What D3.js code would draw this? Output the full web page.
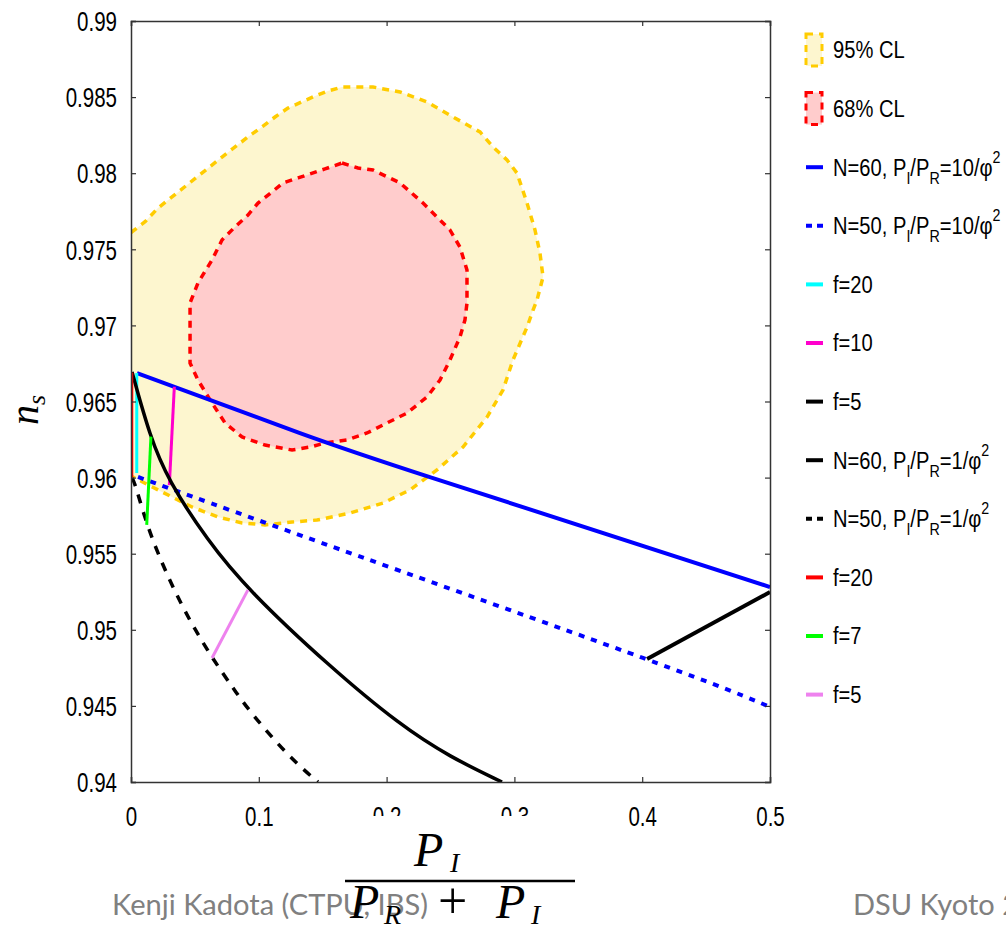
<!DOCTYPE html>
<html>
<head>
<meta charset="utf-8">
<script src="https://cdn.jsdelivr.net/npm/d3@7"></script>
<style>
body { margin: 0; background: #fff; }
svg { display: block; }
.tick text { font-family: "Liberation Sans", Arial, sans-serif; font-size: 27px; fill: #000; }
.legend text { font-family: "Liberation Sans", Arial, sans-serif; font-size: 24px; fill: #000; }
</style>
</head>
<body>
<svg id="chart" width="1006" height="931"></svg>
<script>
// values
var xTicks = [0, 0.1, 0.2, 0.3, 0.4, 0.5];
var yTicks = [0.94, 0.945, 0.95, 0.955, 0.96, 0.965, 0.97, 0.975, 0.98, 0.985, 0.99];

// 95% CL contour, left axis -> round -> left axis
var cl95 = [[0, 0.9761], [0.011, 0.97681], [0.0211, 0.97771], [0.0321, 0.97844], [0.0516, 0.97975],
  [0.0712, 0.98106], [0.0915, 0.98238], [0.1025, 0.98304], [0.1127, 0.98369], [0.1228, 0.98428],
  [0.144, 0.98507], [0.1541, 0.9854], [0.1651, 0.98566], [0.1894, 0.98566], [0.2105, 0.98534],
  [0.2316, 0.98468], [0.252, 0.98369], [0.2731, 0.98271], [0.2833, 0.98172], [0.2942, 0.98087],
  [0.302, 0.98001], [0.3099, 0.97804], [0.3161, 0.97627], [0.32, 0.97476], [0.3224, 0.97318],
  [0.3177, 0.97167], [0.3146, 0.97101], [0.3099, 0.96989], [0.2989, 0.96773], [0.2911, 0.96576],
  [0.2786, 0.96398], [0.2598, 0.96201], [0.2394, 0.9605], [0.2183, 0.95919], [0.1972, 0.95833],
  [0.1714, 0.95767], [0.1455, 0.95721], [0.126, 0.95708], [0.1049, 0.95689], [0.0869, 0.95702],
  [0.0681, 0.95741], [0.0477, 0.95807], [0.0211, 0.95919], [0.0016, 0.96004], [0, 0.9601]];

// 68% CL contour (closed)
var cl68 = [[0.1651, 0.98067], [0.1776, 0.98034], [0.1894, 0.98021], [0.2105, 0.97936], [0.2285, 0.97804],
  [0.2496, 0.97627], [0.2574, 0.97515], [0.2629, 0.97364], [0.2629, 0.97147], [0.2613, 0.97035],
  [0.2574, 0.96924], [0.2496, 0.96773], [0.2418, 0.96641], [0.2316, 0.9653], [0.216, 0.96424],
  [0.2003, 0.96359], [0.1847, 0.96293], [0.169, 0.96247], [0.1518, 0.96227], [0.1401, 0.96201],
  [0.126, 0.96181], [0.1049, 0.96214], [0.0869, 0.96267], [0.0736, 0.96359], [0.0634, 0.9649],
  [0.0524, 0.96641], [0.0462, 0.96753], [0.0462, 0.97147], [0.0524, 0.97279], [0.0634, 0.9743],
  [0.0712, 0.97561], [0.0814, 0.97647], [0.0915, 0.97725], [0.0994, 0.97804], [0.1103, 0.97877],
  [0.1189, 0.97936], [0.1307, 0.97969], [0.1518, 0.98028]];

var n60Phi10 = [[0.0047, 0.96687], [0.1322, 0.96293], [0.2363, 0.95997], [0.5, 0.95281]];
var n50Phi10 = [[0.0055, 0.96004], [0.1495, 0.9557], [0.4006, 0.94815], [0.5, 0.94493]];
var n60Phi1 = [[0.0008, 0.96694], [0.0149, 0.96267], [0.029, 0.95984], [0.0595, 0.9559],
  [0.0915, 0.95262], [0.1557, 0.94756], [0.2105, 0.94374], [0.2496, 0.94164], [0.2903, 0.94]];
var n50Phi1 = [[0.0008, 0.95997], [0.0031, 0.95965], [0.0149, 0.9561], [0.0399, 0.95143],
  [0.0634, 0.94815], [0.0798, 0.94618], [0.0931, 0.9446], [0.1244, 0.94158], [0.1463, 0.94]];

var f20Phi10 = [[0.0045, 0.96687], [0.0045, 0.9603]];
var f10Phi10 = [[0.0339, 0.96597], [0.03, 0.95951]];
var f5Phi10 = [[0.4038, 0.94808], [0.5, 0.95248]];
var f20Phi1 = [[0.0006, 0.9669], [0.0006, 0.96]];
var f7Phi1 = [[0.0156, 0.96269], [0.0123, 0.95689]];
var f5Phi1 = [[0.0915, 0.95262], [0.0634, 0.94815]];

// curve: 'natural' passes through points, 'basis' smooths the read-off points
var lineSeries = [
  {data: n60Phi10, color: '#0000ff', width: 4, dash: null, curve: 'natural', label: 'N=60, P_I/P_R=10/φ^2'},
  {data: n50Phi10, color: '#0000ff', width: 4, dash: '6,7', curve: 'natural', label: 'N=50, P_I/P_R=10/φ^2'},
  {data: f20Phi10, color: '#00ffff', width: 3, dash: null, label: 'f=20'},
  {data: f10Phi10, color: '#ff00cc', width: 3, dash: null, label: 'f=10'},
  {data: f5Phi10, color: '#000000', width: 4, dash: null, label: 'f=5'},
  {data: n60Phi1, color: '#000000', width: 3.5, dash: null, curve: 'basis', label: 'N=60, P_I/P_R=1/φ^2'},
  {data: n50Phi1, color: '#000000', width: 3.5, dash: '9,9', curve: 'basis', label: 'N=50, P_I/P_R=1/φ^2'},
  {data: f20Phi1, color: '#ff0000', width: 3, dash: null, label: 'f=20'},
  {data: f7Phi1, color: '#00ff00', width: 3, dash: null, label: 'f=7'},
  {data: f5Phi1, color: '#ee82ee', width: 3, dash: null, label: 'f=5'}
];

var svg = d3.select('#chart');
var x = d3.scaleLinear().domain([0, 0.5]).range([131, 770]);
var y = d3.scaleLinear().domain([0.94, 0.99]).range([782, 21]);

svg.append('clipPath').attr('id', 'plotclip')
  .append('rect').attr('x', 131).attr('y', 21).attr('width', 639).attr('height', 761);

var plot = svg.append('g').attr('clip-path', 'url(#plotclip)');

var straight = d3.line().x(function(d){ return x(d[0]); }).y(function(d){ return y(d[1]); });
var curves = {
  natural: d3.line().x(function(d){ return x(d[0]); }).y(function(d){ return y(d[1]); }).curve(d3.curveNatural),
  basis: d3.line().x(function(d){ return x(d[0]); }).y(function(d){ return y(d[1]); }).curve(d3.curveBasis)
};

// confidence regions
plot.append('path').attr('d', straight(cl95) + 'Z').attr('fill', '#fdf6cf').attr('stroke', 'none');
plot.append('path').attr('d', straight(cl68) + 'Z').attr('fill', '#ffcccc').attr('stroke', 'none');
plot.append('path').attr('d', straight(cl95)).attr('fill', 'none')
  .attr('stroke', '#ffcc00').attr('stroke-width', 3.5).attr('stroke-dasharray', '7,6');
plot.append('path').attr('d', straight(cl68) + 'Z').attr('fill', 'none')
  .attr('stroke', '#ff0000').attr('stroke-width', 3.5).attr('stroke-dasharray', '7,6');

lineSeries.forEach(function(s){
  plot.append('path')
    .attr('d', s.curve ? curves[s.curve](s.data) : straight(s.data))
    .attr('fill', 'none')
    .attr('stroke', s.color)
    .attr('stroke-width', s.width)
    .attr('stroke-dasharray', s.dash);
});

// narrow the glyphs of a text horizontally, keeping its anchor point
function squeeze(sel, k) {
  sel.each(function(){
    var t = d3.select(this);
    var xv = +t.attr('x') || 0;
    t.attr('x', xv / k).attr('transform', 'scale(' + k + ',1)');
  });
}

// axes, ticks pointing inward, mirrored
var fmt = function(d){ return String(+d.toFixed(3)); };
var axL = svg.append('g').attr('transform', 'translate(131,0)')
  .call(d3.axisLeft(y).tickValues(yTicks).tickFormat(fmt).tickSize(-5).tickPadding(14));
var axB = svg.append('g').attr('transform', 'translate(0,782)')
  .call(d3.axisBottom(x).tickValues(xTicks).tickFormat(fmt).tickSize(-5).tickPadding(25));
var axR = svg.append('g').attr('transform', 'translate(770,0)')
  .call(d3.axisRight(y).tickValues(yTicks).tickFormat('').tickSize(-5));
var axT = svg.append('g').attr('transform', 'translate(0,21)')
  .call(d3.axisTop(x).tickValues(xTicks).tickFormat('').tickSize(-5));
[axL, axB, axR, axT].forEach(function(a){
  a.select('.domain').attr('stroke', '#333').attr('stroke-width', 1.5);
  a.selectAll('.tick line').attr('stroke', '#333').attr('stroke-width', 1.2);
});
axL.selectAll('.tick text').attr('dy', '0.36em');
squeeze(axL.selectAll('.tick text'), 0.76);
squeeze(axB.selectAll('.tick text'), 0.76);

// write a label with _x subscripts and ^x superscripts
function richText(sel, str, small, subDy, supDy) {
  var parts = str.split(/([_^].)/);
  var cur = 0;
  parts.forEach(function(p){
    if (!p) return;
    var target = 0, txt = p, fs = null;
    if (p[0] == '_') { target = subDy; txt = p.substring(1); fs = small; }
    else if (p[0] == '^') { target = supDy; txt = p.substring(1); fs = small; }
    var t = sel.append('tspan').attr('dy', target - cur).text(txt);
    if (fs) t.style('font-size', fs + 'px');
    cur = target;
  });
}

// legend
var legend = svg.append('g').attr('class', 'legend');
var legendY = function(i){ return 50 + i * 58.6; };
var areas = [
  {fill: '#fdf6cf', stroke: '#ffcc00', label: '95% CL'},
  {fill: '#ffcccc', stroke: '#ff0000', label: '68% CL'}
];
areas.forEach(function(a, i){
  legend.append('rect').attr('x', 806).attr('y', legendY(i) - 16).attr('width', 16).attr('height', 32)
    .attr('fill', a.fill).attr('stroke', a.stroke).attr('stroke-width', 3).attr('stroke-dasharray', '7,6');
  legend.append('text').attr('x', 833).attr('y', legendY(i) + 8.5).text(a.label);
});
lineSeries.forEach(function(s, j){
  var i = j + 2;
  legend.append('line').attr('x1', 806).attr('x2', 823).attr('y1', legendY(i)).attr('y2', legendY(i))
    .attr('stroke', s.color).attr('stroke-width', 4)
    .attr('stroke-dasharray', s.dash ? '6,5' : null);
  var t = legend.append('text').attr('x', 833).attr('y', legendY(i) + 8.5);
  richText(t, s.label, 17, 8, -13);
});
squeeze(legend.selectAll('text'), 0.84);

// y label
var yl = svg.append('text')
  .attr('transform', 'translate(38,410) rotate(-90)')
  .attr('text-anchor', 'middle')
  .style('font-family', '"Liberation Serif", "DejaVu Serif", serif')
  .style('font-style', 'italic')
  .style('font-size', '40px');
richText(yl, 'n_s', 26, 7, 0);

// hide the lower part of two tick labels, as in the source image
svg.append('rect').attr('x', 345).attr('y', 816).attr('width', 235).attr('height', 30).attr('fill', '#fff');

// footer
svg.append('text').attr('x', 112).attr('y', 915)
  .style('font-family', 'Lato, "Open Sans", sans-serif').style('font-size', '29px').attr('fill', '#808080')
  .attr('textLength', 316).attr('lengthAdjust', 'spacingAndGlyphs')
  .text('Kenji Kadota (CTPU, IBS)');
svg.append('text').attr('x', 853).attr('y', 915)
  .style('font-family', 'Lato, "Open Sans", sans-serif').style('font-size', '29px').attr('fill', '#808080')
  .text('DSU Kyoto 2015');

// x label as a fraction
var mathFont = '"Liberation Serif", "DejaVu Serif", serif';
var num = svg.append('text').attr('y', 866)
  .style('font-family', mathFont).style('font-style', 'italic').style('font-size', '48px');
num.append('tspan').attr('x', 414).text('P');
num.append('tspan').attr('x', 450).attr('dy', 6).style('font-size', '28px').text('I');
svg.append('line').attr('x1', 345).attr('x2', 575).attr('y1', 881).attr('y2', 881)
  .attr('stroke', '#000').attr('stroke-width', 2.5);
var den = svg.append('text').attr('y', 918)
  .style('font-family', mathFont).style('font-style', 'italic').style('font-size', '48px');
den.append('tspan').attr('x', 350).text('P');
den.append('tspan').attr('x', 384).attr('dy', 6).style('font-size', '28px').text('R');
den.append('tspan').attr('x', 438).attr('dy', -6).style('font-style', 'normal').style('font-size', '52px').text('+');
den.append('tspan').attr('x', 496).text('P');
den.append('tspan').attr('x', 531).attr('dy', 6).style('font-size', '28px').text('I');
</script>
</body>
</html>
